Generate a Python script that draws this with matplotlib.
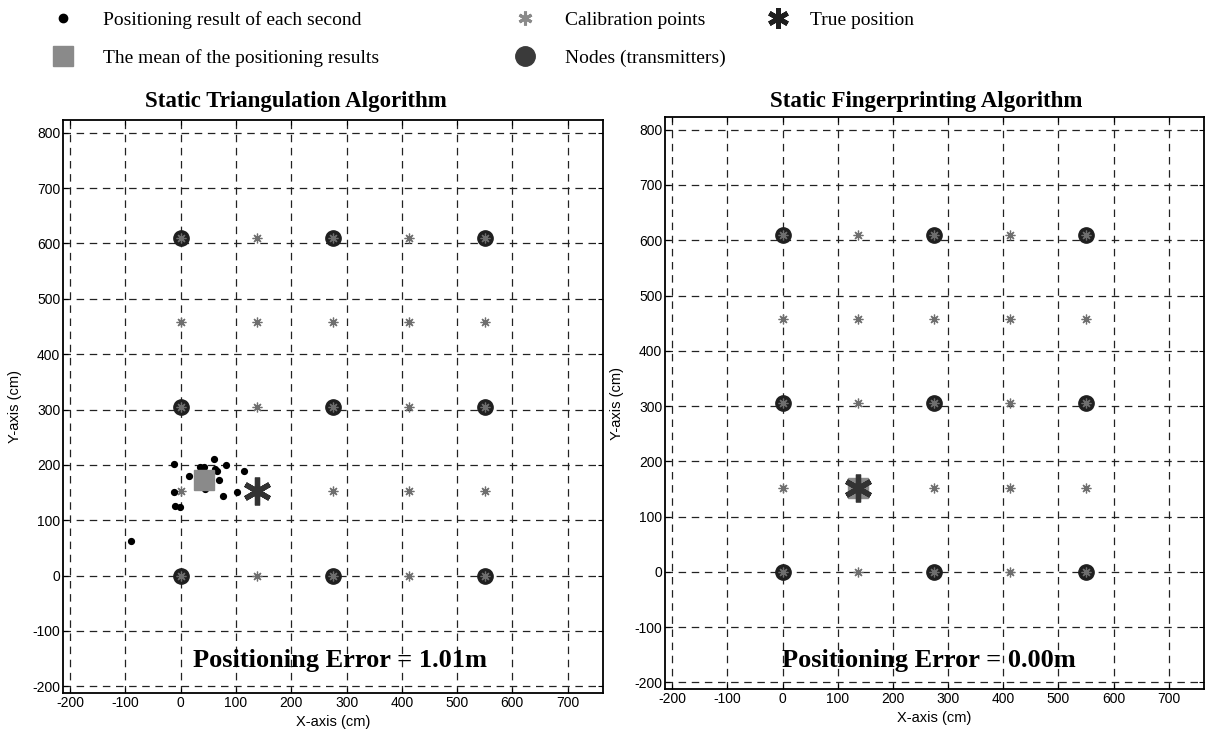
import matplotlib
matplotlib.use("Agg")
import matplotlib.pyplot as plt
from matplotlib.lines import Line2D

plt.rcParams['font.family'] = ['Liberation Sans', 'DejaVu Sans']
plt.rcParams['axes.unicode_minus'] = False

#==========================================================================
# data (cm)
node_x = [0, 275, 550, 0, 275, 550, 0, 275, 550]
node_y = [0, 0, 0, 305, 305, 305, 610, 610, 610]

calib_x = [0, 137.5, 275, 412.5, 550] * 5
calib_y = [0] * 5 + [152.5] * 5 + [305] * 5 + [457.5] * 5 + [610] * 5

true_pos = (137.5, 152.5)

# triangulation : result of each second
tri_x = [-11.6, 34.5, 42, 60, 82.6, 61.3, 65, 113.6, 15.7, 68.7, 44.8,
         -11.6, 102, 76, -9.8, -0.7, -90.6]
tri_y = [202.5, 196.4, 196.4, 210, 199.5, 193.3, 189, 189, 180, 172.7, 157,
         151.6, 151.6, 143.7, 126, 124.7, 62.3]
tri_mean = (42, 173)
tri_err = "1.01m"

# fingerprinting : every second lands on the same calibration point
fp_x = [137.5]
fp_y = [152.5]
fp_mean = (137.5, 152.5)
fp_err = "0.00m"

xticks = list(range(-200, 701, 100))
yticks = list(range(-200, 801, 100))

serif = ['Liberation Serif', 'DejaVu Serif']
node_col = '#1f1f1f'
calib_col = '#6e6e6e'
true_col = '#333333'
mean_col = '#8a8a8a'

#==========================================================================
def draw_panel(ax, title, title_x, title_pad, px, py, mean, err, err_xy):
	ax.set_facecolor('none')
	ax.plot(node_x, node_y, 'o', color=node_col, ms=11, zorder=3)
	ax.plot(calib_x, calib_y, marker=(8, 2, 0), ls='none', color=calib_col,
		ms=7, mew=0.9, zorder=4)
	ax.plot(px, py, 'o', color='k', ms=4.2, zorder=5)
	ax.plot([mean[0]], [mean[1]], 's', color=mean_col, ms=14, zorder=6)
	ax.plot([true_pos[0]], [true_pos[1]], marker=(6, 2, 0), ls='none',
		color=true_col, ms=20, mew=3.8, zorder=7)
	ax.text(err_xy[0], err_xy[1], "Positioning Error = " + err, ha='center',
		va='center', fontsize=19, fontweight='bold', family=serif, zorder=8)

	ax.set_xlim(-213, 764)
	ax.set_ylim(-212, 823)
	ax.set_xticks(xticks)
	ax.set_yticks(yticks)
	ax.grid(True, color='#222222', lw=0.9, linestyle=(0, (6, 4.5)))
	ax.tick_params(direction='in', top=True, right=True, length=3.5,
		labelsize=10, pad=2)
	for s in ax.spines.values():
		s.set_linewidth(1.3)
	ax.set_xlabel("X-axis (cm)", fontsize=10.5, labelpad=4)
	ax.set_ylabel("Y-axis (cm)", fontsize=10.5, labelpad=7)
	ax.set_title(title, x=title_x, fontsize=16.5, fontweight='bold',
		family=serif, pad=title_pad)


fig = plt.figure(figsize=(12.05, 7.36), dpi=100)
ax1 = fig.add_axes([63 / 1205, 1 - 693 / 736, 540 / 1205, 573 / 736])
ax2 = fig.add_axes([665 / 1205, 1 - 689 / 736, 539 / 1205, 572 / 736])

draw_panel(ax1, "Static Triangulation Algorithm", 0.431, 9, tri_x, tri_y,
	tri_mean, tri_err, (289, -153))
draw_panel(ax2, "Static Fingerprinting Algorithm", 0.484, 7, fp_x, fp_y,
	fp_mean, fp_err, (265, -160))

#==========================================================================
# legend on top, three columns
h_dot = Line2D([], [], ls='none', marker='o', color='k', ms=6)
h_mean = Line2D([], [], ls='none', marker='s', color=mean_col, ms=14)
h_calib = Line2D([], [], ls='none', marker=(6, 2, 0), color='#8a8a8a',
	ms=10, mew=2.2)
h_node = Line2D([], [], ls='none', marker='o', color='#3a3a3a', ms=14)
h_true = Line2D([], [], ls='none', marker=(6, 2, 0), color='#1e1e1e',
	ms=15, mew=3.5)

leg_kw = dict(loc='upper left', frameon=False, borderpad=0, borderaxespad=0,
	handlelength=1.5, labelspacing=1.05,
	prop={'family': serif, 'size': 14})
top = 1 - 11 / 736
fig.legend([h_dot, h_mean], ["Positioning result of each second",
	"The mean of the positioning results"],
	bbox_to_anchor=(48.5 / 1205, top), handletextpad=1.31, **leg_kw)
fig.legend([h_calib, h_node], ["Calibration points", "Nodes (transmitters)"],
	bbox_to_anchor=(510.5 / 1205, top), handletextpad=1.31, **leg_kw)
fig.legend([h_true], ["True position"],
	bbox_to_anchor=(763.5 / 1205, top), handletextpad=0.9, **leg_kw)

fig.savefig("out.png", dpi=100)
